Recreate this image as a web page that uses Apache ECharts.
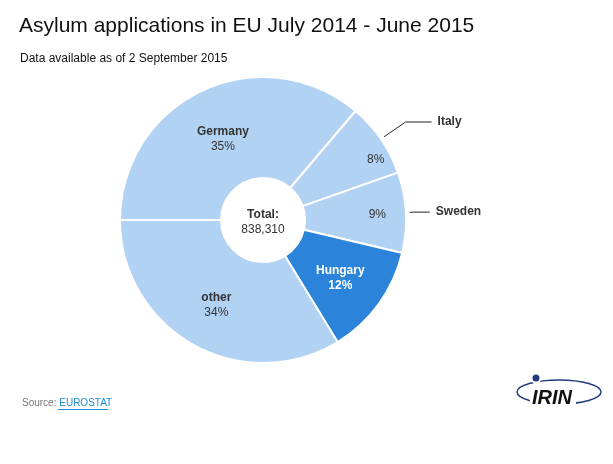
<!DOCTYPE html>
<html lang="en" style="height: 100%">
<head>
  <meta charset="utf-8">
</head>
<body style="height: 100%; margin: 0; background: #fff">
  <div id="container" style="width: 613px; height: 464px"></div>

  <script type="text/javascript" src="https://fastly.jsdelivr.net/npm/echarts@6/dist/echarts.min.js"></script>
  <script type="text/javascript">
    // data
    var countries = ['Germany', 'Italy', 'Sweden', 'Hungary', 'other'];
    var applications = [303500, 70600, 76200, 105200, 282810];
    var shareLabels = ['35%', '8%', '9%', '12%', '34%'];
    var outsideNames = ['Italy', 'Sweden'];
    var totalLabel = '838,310';

    var LIGHT = '#b1d2f2';
    var DARK = '#2b83da';
    var FONT = '"Liberation Sans", Arial, sans-serif';

    // nudges for the share labels (inside the slices)
    var labelOffsets = {
      Germany: [0, 6],
      Italy: [34, -6],
      Sweden: [19, 0],
      Hungary: [0, 2],
      other: [0, 2]
    };
    // leader lines for the outside names
    var lineLengths = {
      Italy: [26, 26],
      Sweden: [4, 16]
    };

    var dom = document.getElementById('container');
    var myChart = echarts.init(dom, null, { renderer: 'canvas' });

    var innerData = countries.map(function (name, i) {
      var isHungary = name === 'Hungary';
      var inside = outsideNames.indexOf(name) < 0;
      return {
        name: name,
        value: applications[i],
        itemStyle: { color: isHungary ? DARK : LIGHT },
        label: {
          offset: labelOffsets[name],
          formatter: inside ? '{b|' + name + '}\n{p|' + shareLabels[i] + '}' : '{p|' + shareLabels[i] + '}',
          rich: {
            b: { fontFamily: FONT, fontWeight: 'bold', fontSize: 12, color: isHungary ? '#fff' : '#333', lineHeight: 15 },
            p: { fontFamily: FONT, fontWeight: isHungary ? 'bold' : 'normal', fontSize: 12, color: isHungary ? '#fff' : '#333', lineHeight: 15 }
          }
        }
      };
    });

    var outerData = countries.map(function (name, i) {
      var show = outsideNames.indexOf(name) >= 0;
      var len = lineLengths[name] || [10, 10];
      return {
        name: name,
        value: applications[i],
        label: { show: show },
        labelLine: { show: show, length: len[0], length2: len[1] }
      };
    });

    var option = {
      backgroundColor: '#fff',
      animation: false,
      title: [
        {
          text: 'Asylum applications in EU July 2014 - June 2015',
          left: 19,
          top: 16,
          padding: 0,
          textStyle: { fontFamily: FONT, fontWeight: 'normal', fontSize: 21, color: '#111' }
        },
        {
          text: 'Data available as of 2 September 2015',
          left: 20,
          top: 53,
          padding: 0,
          textStyle: { fontFamily: FONT, fontWeight: 'normal', fontSize: 12, color: '#111' }
        }
      ],
      series: [
        {
          type: 'pie',
          center: [263, 220],
          radius: [42, 143],
          startAngle: 180,
          clockwise: true,
          silent: true,
          itemStyle: { borderColor: '#fff', borderWidth: 2 },
          label: { show: true, position: 'inside' },
          labelLine: { show: false },
          data: innerData,
          z: 2
        },
        {
          type: 'pie',
          center: [263, 220],
          radius: [42, 147],
          startAngle: 180,
          clockwise: true,
          silent: true,
          itemStyle: { color: 'transparent' },
          label: {
            position: 'outside',
            formatter: '{b}',
            fontFamily: FONT,
            fontWeight: 'bold',
            fontSize: 12,
            color: '#333',
            distanceToLabelLine: 6
          },
          labelLine: {
            lineStyle: { color: '#222', width: 1 }
          },
          data: outerData,
          z: 3
        }
      ],
      graphic: [
        {
          type: 'text',
          x: 263,
          y: 222,
          style: {
            text: '{t|Total:}\n{v|' + totalLabel + '}',
            align: 'center',
            verticalAlign: 'middle',
            rich: {
              t: { fontFamily: FONT, fontWeight: 'bold', fontSize: 12, fill: '#333', lineHeight: 15, align: 'center' },
              v: { fontFamily: FONT, fontSize: 12, fill: '#333', lineHeight: 15, align: 'center' }
            }
          },
          z: 10
        },
        {
          type: 'text',
          x: 22,
          y: 398,
          style: {
            text: '{s|Source: }{l|EUROSTAT}',
            rich: {
              s: { fontFamily: FONT, fontSize: 10, fill: '#777' },
              l: { fontFamily: FONT, fontSize: 10, fill: '#1b8bd6' }
            }
          }
        },
        {
          type: 'line',
          shape: { x1: 58, y1: 409.5, x2: 108, y2: 409.5 },
          style: { stroke: '#1b8bd6', lineWidth: 1 }
        },
        // IRIN logo
        {
          type: 'group',
          x: 516,
          y: 373,
          children: [
            {
              type: 'ellipse',
              shape: { cx: 43, cy: 19, rx: 42, ry: 12 },
              style: { fill: 'none', stroke: '#1f3b7d', lineWidth: 1.5 }
            },
            {
              type: 'rect',
              shape: { x: 14, y: 17, width: 46, height: 16 },
              style: { fill: '#fff' }
            },
            {
              type: 'circle',
              shape: { cx: 20, cy: 5, r: 4.5 },
              style: { fill: '#1f3b7d', stroke: '#fff', lineWidth: 2 }
            },
            {
              type: 'text',
              style: {
                text: 'IRIN',
                x: 16,
                y: 15,
                fontFamily: FONT,
                fontSize: 20,
                fontWeight: 'bold',
                fontStyle: 'italic',
                fill: '#111'
              }
            }
          ]
        }
      ]
    };

    myChart.setOption(option);
    window.addEventListener('resize', myChart.resize);
  </script>
</body>
</html>
